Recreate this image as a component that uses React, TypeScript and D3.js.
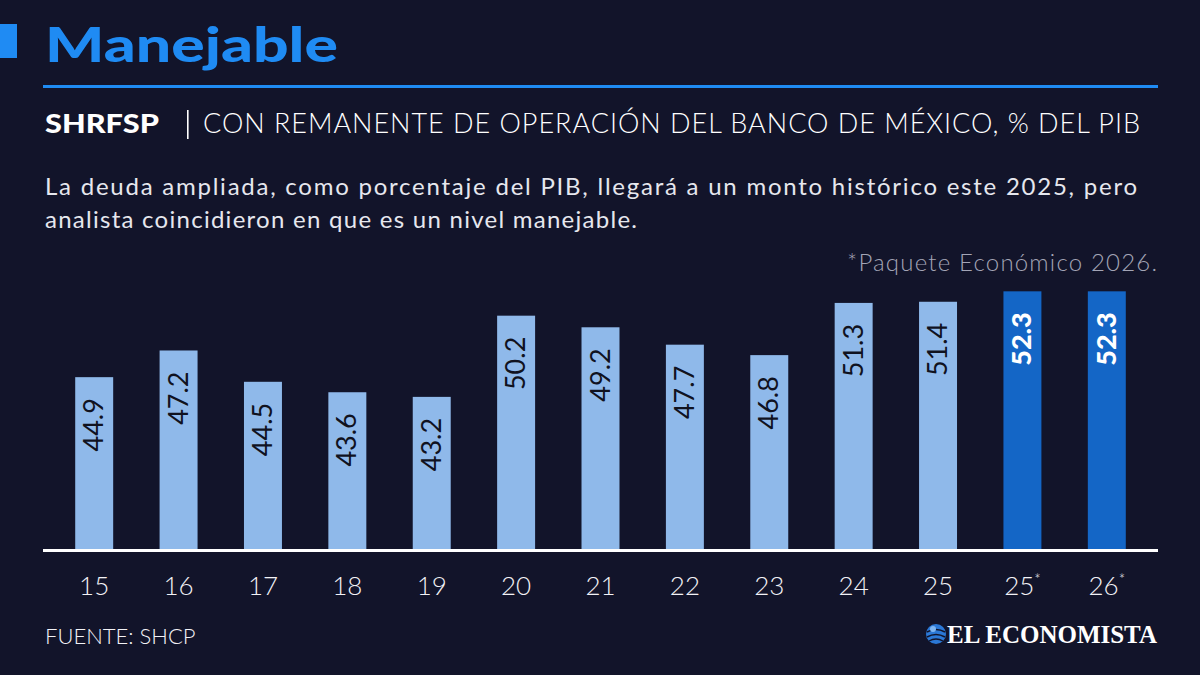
import { scaleBand, scaleLinear } from "d3"

// SHRFSP as % of GDP, with Banxico operating surplus
const years = ["15", "16", "17", "18", "19", "20", "21", "22", "23", "24", "25", "25*", "26*"]
const values = [44.9, 47.2, 44.5, 43.6, 43.2, 50.2, 49.2, 47.7, 46.8, 51.3, 51.4, 52.3, 52.3]
const projected = [false, false, false, false, false, false, false, false, false, false, false, true, true]

const W = 1200
const H = 675
const BG = "#12142a"
const BLUE = "#1f8bf3"
const LIGHT = "#8fb9ea"
const DARK = "#1466c6"
const FONT = "Lato, 'Noto Sans', sans-serif"

export default function App() {
    const x = scaleBand<string>()
        .domain(years)
        .range([52, 1149])
        .paddingInner(0.55)
        .paddingOuter(0.275)

    const y = scaleLinear().domain([30, 55]).range([550, 260])

    return (
        <svg width={W} height={H} style={{ position: "absolute", left: 0, top: 0, background: BG }}>
            <rect width={W} height={H} fill={BG} />

            {/* header */}
            <rect x={0} y={24} width={17} height={34} fill={BLUE} />
            <text x={45} y={62} fill={BLUE} fontFamily={FONT} fontWeight={900} fontSize={48}
                textLength={293} lengthAdjust="spacingAndGlyphs">
                Manejable
            </text>
            <rect x={43} y={85} width={1115} height={3} fill={BLUE} />

            <text x={45} y={133} fill="#ffffff" fontFamily={FONT} fontWeight={900} fontSize={27}
                textLength={114} lengthAdjust="spacingAndGlyphs">
                SHRFSP
            </text>
            <rect x={187} y={110} width={1.6} height={29} fill="#ffffff" />
            <text x={203} y={133} fill="#ffffff" fontFamily={FONT} fontWeight={300} fontSize={27}
                textLength={937}>
                CON REMANENTE DE OPERACIÓN DEL BANCO DE MÉXICO, % DEL PIB
            </text>

            <text x={45} y={195} fill="#e6e7ee" fontFamily={FONT} fontWeight={400} fontSize={24}
                textLength={1092}>
                La deuda ampliada, como porcentaje del PIB, llegará a un monto histórico este 2025, pero
            </text>
            <text x={45} y={228} fill="#e6e7ee" fontFamily={FONT} fontWeight={400} fontSize={24}
                textLength={592}>
                analista coincidieron en que es un nivel manejable.
            </text>

            <text x={1157} y={271} textAnchor="end" fill="#a3a5b6" fontFamily={FONT} fontWeight={300} fontSize={24}
                textLength={310}>
                *Paquete Económico 2026.
            </text>

            {/* bars */}
            {years.map((yr, i) => {
                const bx = x(yr) ?? 0
                const top = y(values[i])
                const cx = bx + x.bandwidth() / 2
                const ly = top + 21
                return (
                    <g key={yr}>
                        <rect x={bx} y={top} width={x.bandwidth()} height={y(30) - top}
                            fill={projected[i] ? DARK : LIGHT} />
                        <text
                            transform={`translate(${cx + 9},${ly}) rotate(-90)`}
                            textAnchor="end"
                            fill={projected[i] ? "#ffffff" : "#10121f"}
                            fontFamily={FONT}
                            fontWeight={projected[i] ? 900 : 400}
                            fontSize={27}
                        >
                            {values[i].toFixed(1)}
                        </text>
                    </g>
                )
            })}

            {/* baseline */}
            <rect x={43} y={549} width={1115} height={3} fill="#ffffff" />

            {/* x labels */}
            {years.map(yr => {
                const cx = (x(yr) ?? 0) + x.bandwidth() / 2
                const star = yr.endsWith("*")
                return (
                    <text key={"l" + yr} x={cx} y={595} textAnchor="middle" fill="#f2f2f6"
                        fontFamily={FONT} fontWeight={300} fontSize={26}>
                        {yr.replace("*", "")}
                        {star && <tspan dy={-10} fontSize={15}>*</tspan>}
                    </text>
                )
            })}

            {/* footer */}
            <text x={45} y={644} fill="#f2f2f6" fontFamily={FONT} fontWeight={300} fontSize={22}>
                FUENTE: SHCP
            </text>

            <g transform="translate(936,634)">
                <circle r={10} fill="#2b78d6" />
                <path d="M-9,-2 Q0,-7 9,-2" stroke={BG} strokeWidth={1.6} fill="none" />
                <path d="M-9,3 Q0,-2 9,3" stroke={BG} strokeWidth={1.6} fill="none" />
                <path d="M-7,7 Q0,3 7,7" stroke={BG} strokeWidth={1.4} fill="none" />
                <circle cx={-3} cy={-5} r={3} fill="#7fb6f2" />
            </g>
            <text x={947} y={643} fill="#ffffff" fontFamily="'Liberation Serif', 'DejaVu Serif', serif"
                fontWeight={700} fontSize={25} textLength={210} lengthAdjust="spacingAndGlyphs">
                EL ECONOMISTA
            </text>
        </svg>
    )
}
